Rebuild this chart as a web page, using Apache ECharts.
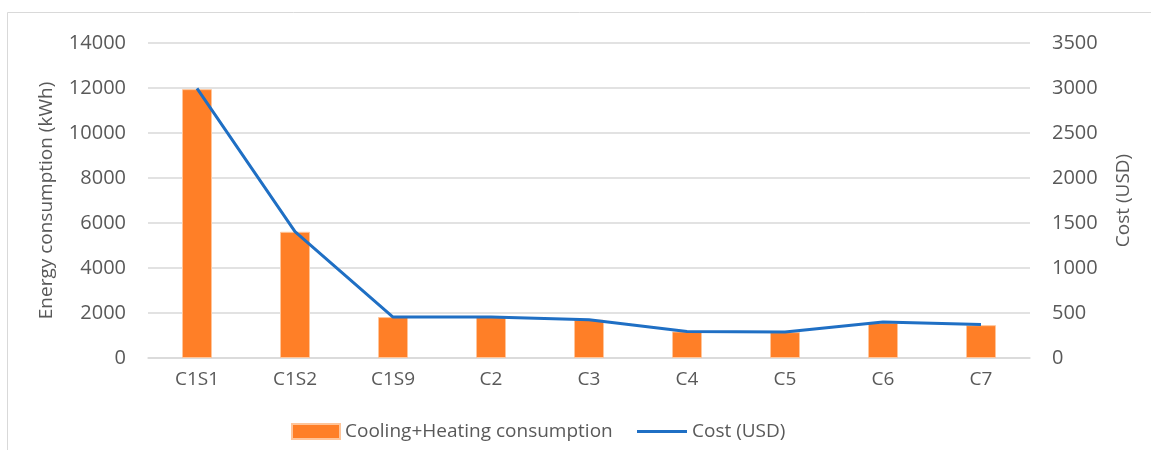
<!DOCTYPE html>
<html>
<head>
<meta charset="utf-8">
<script src="https://cdn.jsdelivr.net/npm/echarts@6/dist/echarts.min.js"></script>
<style>
  html, body { margin: 0; padding: 0; background: #fff; }
  #chart { width: 1151px; height: 450px; }
</style>
</head>
<body>
<div id="chart"></div>
<script>
// Scenario labels along the horizontal axis
const categories = ['C1S1', 'C1S2', 'C1S9', 'C2', 'C3', 'C4', 'C5', 'C6', 'C7'];
// Cooling + heating energy consumption per scenario (kWh)
const consumption = [11950, 5610, 1820, 1820, 1700, 1180, 1150, 1560, 1460];
// Annual cost per scenario (USD)
const cost = [2995, 1405, 455, 455, 425, 295, 289, 400, 373];
// Axis scales
const energyTicks = { min: 0, max: 14000, interval: 2000 };
const costTicks = { min: 0, max: 3500, interval: 500 };

const FONT = '"Open Sans", "Noto Sans", sans-serif';
const TEXT = '#595959';
const GRID = '#d9d9d9';
const ORANGE = '#FF7F27';
const BLUE = '#1F6FC4';

const plain = v => String(v);

const chart = echarts.init(document.getElementById('chart'), null, { renderer: 'canvas' });

chart.setOption({
  backgroundColor: '#fff',
  animation: false,
  textStyle: { fontFamily: FONT },
  graphic: [{
    type: 'rect',
    shape: { x: 7.5, y: 12.5, width: 1200, height: 500 },
    style: { fill: 'none', stroke: GRID, lineWidth: 1 },
    silent: true,
    z: -1
  }],
  grid: { left: 148, right: 121, top: 43, bottom: 92, containLabel: false },
  legend: [{
    left: 291,
    top: 422,
    padding: 0,
    itemWidth: 48,
    itemHeight: 15,
    textStyle: { fontFamily: FONT, fontSize: 19, color: TEXT },
    data: [{ name: 'Cooling+Heating consumption', icon: 'rect' }]
  }, {
    left: 637,
    top: 422,
    padding: 0,
    itemWidth: 50,
    itemHeight: 3,
    textStyle: { fontFamily: FONT, fontSize: 19, color: TEXT, lineHeight: 15 },
    data: [{ name: 'Cost (USD)', icon: 'rect' }]
  }],
  xAxis: {
    type: 'category',
    data: categories,
    boundaryGap: true,
    axisLine: { show: true, lineStyle: { color: GRID, width: 1.5 } },
    axisTick: { show: false },
    axisLabel: { color: TEXT, fontFamily: FONT, fontSize: 19, margin: 12 },
    splitLine: { show: false }
  },
  yAxis: [{
    type: 'value',
    position: 'left',
    min: energyTicks.min,
    max: energyTicks.max,
    interval: energyTicks.interval,
    name: 'Energy consumption (kWh)',
    nameLocation: 'middle',
    nameGap: 92,
    nameTextStyle: { color: TEXT, fontFamily: FONT, fontSize: 19 },
    axisLine: { show: false },
    axisTick: { show: false },
    axisLabel: { color: TEXT, fontFamily: FONT, fontSize: 20, margin: 22, formatter: plain },
    splitLine: { show: true, lineStyle: { color: GRID, width: 1.5 } }
  }, {
    type: 'value',
    position: 'right',
    min: costTicks.min,
    max: costTicks.max,
    interval: costTicks.interval,
    name: 'Cost (USD)',
    nameLocation: 'middle',
    nameGap: 84,
    nameRotate: 90,
    nameTextStyle: { color: TEXT, fontFamily: FONT, fontSize: 19 },
    axisLine: { show: false },
    axisTick: { show: false },
    axisLabel: { color: TEXT, fontFamily: FONT, fontSize: 20, margin: 22, formatter: plain },
    splitLine: { show: false }
  }],
  series: [{
    name: 'Cooling+Heating consumption',
    type: 'bar',
    yAxisIndex: 0,
    data: consumption,
    barWidth: 30,
    itemStyle: { color: ORANGE, borderColor: '#FFC59A', borderWidth: 1 },
    z: 2
  }, {
    name: 'Cost (USD)',
    type: 'line',
    yAxisIndex: 1,
    data: cost,
    symbol: 'none',
    lineStyle: { color: BLUE, width: 3 },
    itemStyle: { color: BLUE },
    z: 3
  }]
});
</script>
</body>
</html>
